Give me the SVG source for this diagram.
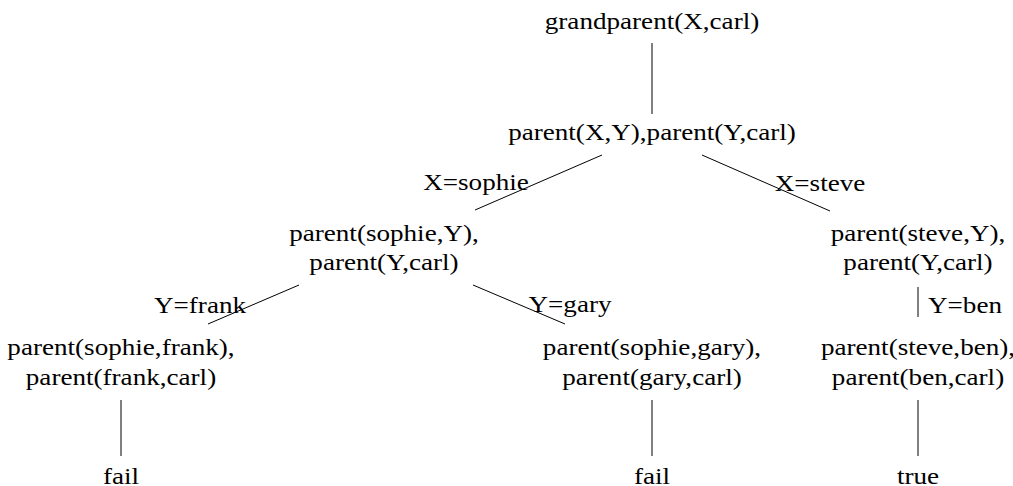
<svg xmlns="http://www.w3.org/2000/svg" width="1013" height="486" viewBox="0 0 1013 486">
  <style>
    text { font-family: "Liberation Serif", "Times New Roman", serif; font-size: 24px; fill: #000; text-anchor: middle; }
    .edge { stroke: #000; stroke-width: 1; fill: none; }
    .lbl { text-anchor: start; }
  </style>
  <rect width="1013" height="486" fill="#fff"/>
  <g id="connectors">
    <line class="edge" x1="652" y1="43" x2="652" y2="114"/>
    <line class="edge" x1="602" y1="155" x2="475" y2="210"/>
    <line class="edge" x1="702" y1="155" x2="830" y2="211"/>
    <line class="edge" x1="299" y1="285" x2="208" y2="324"/>
    <line class="edge" x1="473" y1="285" x2="565" y2="324"/>
    <line class="edge" x1="918" y1="287" x2="918" y2="317"/>
    <line class="edge" x1="121" y1="400" x2="121" y2="456"/>
    <line class="edge" x1="652" y1="400" x2="652" y2="456"/>
    <line class="edge" x1="918" y1="400" x2="918" y2="456"/>
  </g>
  <!-- glyphs are drawn slightly wide: each text is placed by translate, then stretched 1.13x -->
  <g id="edge-labels">
    <text transform="translate(476 190) scale(1.13 1)">X=sophie</text>
    <text transform="translate(820 191) scale(1.13 1)">X=steve</text>
    <text transform="translate(200 313) scale(1.13 1)">Y=frank</text>
    <text transform="translate(570 312) scale(1.13 1)">Y=gary</text>
    <text class="lbl" transform="translate(928 313) scale(1.13 1)">Y=ben</text>
  </g>
  <g id="n-root"><text transform="translate(652 29) scale(1.13 1)">grandparent(X,carl)</text></g>
  <g id="n-conj"><text transform="translate(652 140) scale(1.13 1)">parent(X,Y),parent(Y,carl)</text></g>
  <g id="n-sophie">
    <text transform="translate(384 241) scale(1.13 1)">parent(sophie,Y),</text>
    <text transform="translate(384 270) scale(1.13 1)">parent(Y,carl)</text>
  </g>
  <g id="n-steve">
    <text transform="translate(918 241) scale(1.13 1)">parent(steve,Y),</text>
    <text transform="translate(918 270) scale(1.13 1)">parent(Y,carl)</text>
  </g>
  <g id="n-frank">
    <text transform="translate(121 355) scale(1.13 1)">parent(sophie,frank),</text>
    <text transform="translate(121 385) scale(1.13 1)">parent(frank,carl)</text>
  </g>
  <g id="n-gary">
    <text transform="translate(652 355) scale(1.13 1)">parent(sophie,gary),</text>
    <text transform="translate(652 385) scale(1.13 1)">parent(gary,carl)</text>
  </g>
  <g id="n-ben">
    <text transform="translate(918 355) scale(1.13 1)">parent(steve,ben),</text>
    <text transform="translate(918 385) scale(1.13 1)">parent(ben,carl)</text>
  </g>
  <g id="n-fail1"><text transform="translate(121 484) scale(1.13 1)">fail</text></g>
  <g id="n-fail2"><text transform="translate(652 484) scale(1.13 1)">fail</text></g>
  <g id="n-true"><text transform="translate(918 484) scale(1.13 1)">true</text></g>
</svg>
